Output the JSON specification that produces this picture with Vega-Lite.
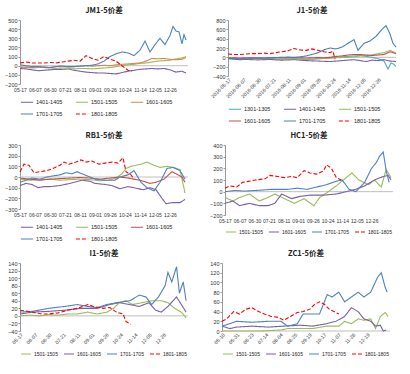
{
"$schema":"https://vega.github.io/schema/vega-lite/v6.json",
"padding":{"left":4,"top":6,"right":2,"bottom":2},
"background":"white",
"spacing":6,
"config":{"view":{"stroke":null},"font":"Liberation Sans",
 "title":{"font":"Noto Sans CJK SC","fontSize":7.5,"fontWeight":"bold","color":"#222","offset":4},
 "axis":{"labelFontSize":5.5,"labelColor":"#333","domainColor":"#999","tickColor":"#999","tickSize":2,"grid":false,"title":null,"labelPadding":1,"labelOverlap":false,"labelFlush":false},
 "axisX":{"labelFontSize":5,"labelPadding":3},
 "legend":{"orient":"bottom","direction":"horizontal","title":null,"labelFontSize":5.5,"labelColor":"#222","symbolType":"stroke","symbolSize":150,"symbolStrokeWidth":1.5,"columnPadding":10,"rowPadding":1,"offset":3,"labelLimit":60,"labelOffset":2,"padding":0},
 "line":{"strokeWidth":1.1,"interpolate":"linear"}
},
"datasets":{
"jm":[
{"s":"1401-1405","t":0,"v":-30},{"s":"1401-1405","t":6,"v":-35},{"s":"1401-1405","t":12,"v":-45},{"s":"1401-1405","t":18,"v":-55},{"s":"1401-1405","t":24,"v":-50},{"s":"1401-1405","t":30,"v":-45},{"s":"1401-1405","t":36,"v":-40},{"s":"1401-1405","t":42,"v":-40},{"s":"1401-1405","t":48,"v":-35},{"s":"1401-1405","t":54,"v":-50},{"s":"1401-1405","t":60,"v":-60},{"s":"1401-1405","t":66,"v":-70},{"s":"1401-1405","t":72,"v":-75},{"s":"1401-1405","t":78,"v":-80},{"s":"1401-1405","t":84,"v":-80},{"s":"1401-1405","t":90,"v":-85},{"s":"1401-1405","t":96,"v":-90},{"s":"1401-1405","t":102,"v":-75},{"s":"1401-1405","t":108,"v":-60},{"s":"1401-1405","t":114,"v":-50},{"s":"1401-1405","t":120,"v":-40},{"s":"1401-1405","t":126,"v":-35},{"s":"1401-1405","t":132,"v":-30},{"s":"1401-1405","t":138,"v":-35},{"s":"1401-1405","t":144,"v":-30},{"s":"1401-1405","t":150,"v":-45},{"s":"1401-1405","t":156,"v":-70},{"s":"1401-1405","t":162,"v":-60},{"s":"1401-1405","t":166,"v":-80},
{"s":"1501-1505","t":0,"v":-10},{"s":"1501-1505","t":6,"v":-20},{"s":"1501-1505","t":12,"v":-25},{"s":"1501-1505","t":18,"v":-20},{"s":"1501-1505","t":24,"v":-20},{"s":"1501-1505","t":30,"v":-25},{"s":"1501-1505","t":36,"v":-30},{"s":"1501-1505","t":42,"v":-25},{"s":"1501-1505","t":48,"v":-30},{"s":"1501-1505","t":54,"v":-35},{"s":"1501-1505","t":60,"v":-30},{"s":"1501-1505","t":66,"v":-30},{"s":"1501-1505","t":72,"v":-35},{"s":"1501-1505","t":78,"v":-30},{"s":"1501-1505","t":84,"v":-25},{"s":"1501-1505","t":90,"v":-20},{"s":"1501-1505","t":96,"v":-10},{"s":"1501-1505","t":102,"v":0},{"s":"1501-1505","t":108,"v":10},{"s":"1501-1505","t":114,"v":15},{"s":"1501-1505","t":120,"v":25},{"s":"1501-1505","t":126,"v":30},{"s":"1501-1505","t":132,"v":40},{"s":"1501-1505","t":138,"v":50},{"s":"1501-1505","t":144,"v":55},{"s":"1501-1505","t":150,"v":60},{"s":"1501-1505","t":156,"v":75},{"s":"1501-1505","t":162,"v":85},{"s":"1501-1505","t":166,"v":100},
{"s":"1601-1605","t":0,"v":-20},{"s":"1601-1605","t":6,"v":-15},{"s":"1601-1605","t":12,"v":-20},{"s":"1601-1605","t":18,"v":-10},{"s":"1601-1605","t":24,"v":-15},{"s":"1601-1605","t":30,"v":-20},{"s":"1601-1605","t":36,"v":-10},{"s":"1601-1605","t":42,"v":-5},{"s":"1601-1605","t":48,"v":-15},{"s":"1601-1605","t":54,"v":-10},{"s":"1601-1605","t":60,"v":-5},{"s":"1601-1605","t":66,"v":0},{"s":"1601-1605","t":72,"v":-5},{"s":"1601-1605","t":78,"v":0},{"s":"1601-1605","t":84,"v":5},{"s":"1601-1605","t":90,"v":0},{"s":"1601-1605","t":96,"v":10},{"s":"1601-1605","t":102,"v":15},{"s":"1601-1605","t":108,"v":20},{"s":"1601-1605","t":114,"v":25},{"s":"1601-1605","t":120,"v":30},{"s":"1601-1605","t":126,"v":50},{"s":"1601-1605","t":132,"v":80},{"s":"1601-1605","t":138,"v":75},{"s":"1601-1605","t":144,"v":80},{"s":"1601-1605","t":150,"v":70},{"s":"1601-1605","t":156,"v":65},{"s":"1601-1605","t":162,"v":70},{"s":"1601-1605","t":166,"v":90},
{"s":"1701-1705","t":0,"v":10},{"s":"1701-1705","t":6,"v":0},{"s":"1701-1705","t":12,"v":-10},{"s":"1701-1705","t":18,"v":-10},{"s":"1701-1705","t":24,"v":-15},{"s":"1701-1705","t":30,"v":-20},{"s":"1701-1705","t":36,"v":-10},{"s":"1701-1705","t":42,"v":-5},{"s":"1701-1705","t":48,"v":-10},{"s":"1701-1705","t":54,"v":-10},{"s":"1701-1705","t":60,"v":-5},{"s":"1701-1705","t":66,"v":0},{"s":"1701-1705","t":72,"v":5},{"s":"1701-1705","t":78,"v":20},{"s":"1701-1705","t":84,"v":50},{"s":"1701-1705","t":90,"v":100},{"s":"1701-1705","t":96,"v":130},{"s":"1701-1705","t":102,"v":150},{"s":"1701-1705","t":108,"v":140},{"s":"1701-1705","t":114,"v":110},{"s":"1701-1705","t":120,"v":170},{"s":"1701-1705","t":125,"v":270},{"s":"1701-1705","t":130,"v":150},{"s":"1701-1705","t":135,"v":230},{"s":"1701-1705","t":140,"v":300},{"s":"1701-1705","t":145,"v":230},{"s":"1701-1705","t":150,"v":330},{"s":"1701-1705","t":153,"v":430},{"s":"1701-1705","t":156,"v":380},{"s":"1701-1705","t":159,"v":370},{"s":"1701-1705","t":162,"v":240},{"s":"1701-1705","t":164,"v":340},{"s":"1701-1705","t":166,"v":280},
{"s":"1801-1805","t":0,"v":30},{"s":"1801-1805","t":6,"v":40},{"s":"1801-1805","t":12,"v":30},{"s":"1801-1805","t":18,"v":30},{"s":"1801-1805","t":24,"v":30},{"s":"1801-1805","t":30,"v":35},{"s":"1801-1805","t":36,"v":30},{"s":"1801-1805","t":42,"v":40},{"s":"1801-1805","t":48,"v":50},{"s":"1801-1805","t":54,"v":60},{"s":"1801-1805","t":60,"v":50},{"s":"1801-1805","t":66,"v":110},{"s":"1801-1805","t":72,"v":80},{"s":"1801-1805","t":78,"v":60},{"s":"1801-1805","t":84,"v":100},{"s":"1801-1805","t":90,"v":70},{"s":"1801-1805","t":96,"v":50},{"s":"1801-1805","t":102,"v":0},{"s":"1801-1805","t":108,"v":-50},{"s":"1801-1805","t":112,"v":-60}
],
"j":[
{"s":"1301-1305","t":0,"v":-10},{"s":"1301-1305","t":6,"v":-20},{"s":"1301-1305","t":12,"v":-40},{"s":"1301-1305","t":18,"v":-30},{"s":"1301-1305","t":24,"v":-20},{"s":"1301-1305","t":30,"v":-30},{"s":"1301-1305","t":36,"v":-40},{"s":"1301-1305","t":42,"v":-30},{"s":"1301-1305","t":48,"v":-40},{"s":"1301-1305","t":54,"v":-50},{"s":"1301-1305","t":60,"v":-40},{"s":"1301-1305","t":66,"v":-30},{"s":"1301-1305","t":72,"v":-40},{"s":"1301-1305","t":78,"v":-50},{"s":"1301-1305","t":84,"v":-40},{"s":"1301-1305","t":90,"v":-30},{"s":"1301-1305","t":96,"v":-20},{"s":"1301-1305","t":102,"v":-10},{"s":"1301-1305","t":108,"v":0},{"s":"1301-1305","t":114,"v":10},{"s":"1301-1305","t":120,"v":20},{"s":"1301-1305","t":126,"v":30},{"s":"1301-1305","t":132,"v":40},{"s":"1301-1305","t":138,"v":20},{"s":"1301-1305","t":144,"v":0},{"s":"1301-1305","t":150,"v":-30},{"s":"1301-1305","t":156,"v":-80},{"s":"1301-1305","t":160,"v":-250},{"s":"1301-1305","t":163,"v":-120},{"s":"1301-1305","t":166,"v":-150},{"s":"1301-1305","t":168,"v":-200},
{"s":"1401-1405","t":0,"v":-30},{"s":"1401-1405","t":6,"v":-40},{"s":"1401-1405","t":12,"v":-50},{"s":"1401-1405","t":18,"v":-45},{"s":"1401-1405","t":24,"v":-50},{"s":"1401-1405","t":30,"v":-55},{"s":"1401-1405","t":36,"v":-50},{"s":"1401-1405","t":42,"v":-45},{"s":"1401-1405","t":48,"v":-55},{"s":"1401-1405","t":54,"v":-60},{"s":"1401-1405","t":60,"v":-55},{"s":"1401-1405","t":66,"v":-50},{"s":"1401-1405","t":72,"v":-60},{"s":"1401-1405","t":78,"v":-70},{"s":"1401-1405","t":84,"v":-75},{"s":"1401-1405","t":90,"v":-80},{"s":"1401-1405","t":96,"v":-85},{"s":"1401-1405","t":102,"v":-90},{"s":"1401-1405","t":108,"v":-80},{"s":"1401-1405","t":114,"v":-70},{"s":"1401-1405","t":120,"v":-60},{"s":"1401-1405","t":126,"v":-50},{"s":"1401-1405","t":132,"v":-70},{"s":"1401-1405","t":138,"v":-90},{"s":"1401-1405","t":144,"v":-60},{"s":"1401-1405","t":150,"v":-70},{"s":"1401-1405","t":156,"v":-50},{"s":"1401-1405","t":162,"v":-80},{"s":"1401-1405","t":168,"v":-90},
{"s":"1501-1505","t":0,"v":-10},{"s":"1501-1505","t":6,"v":-20},{"s":"1501-1505","t":12,"v":-30},{"s":"1501-1505","t":18,"v":-25},{"s":"1501-1505","t":24,"v":-30},{"s":"1501-1505","t":30,"v":-35},{"s":"1501-1505","t":36,"v":-30},{"s":"1501-1505","t":42,"v":-25},{"s":"1501-1505","t":48,"v":-30},{"s":"1501-1505","t":54,"v":-40},{"s":"1501-1505","t":60,"v":-35},{"s":"1501-1505","t":66,"v":-30},{"s":"1501-1505","t":72,"v":-35},{"s":"1501-1505","t":78,"v":-40},{"s":"1501-1505","t":84,"v":-35},{"s":"1501-1505","t":90,"v":-30},{"s":"1501-1505","t":96,"v":-25},{"s":"1501-1505","t":102,"v":-20},{"s":"1501-1505","t":108,"v":-10},{"s":"1501-1505","t":114,"v":-5},{"s":"1501-1505","t":120,"v":0},{"s":"1501-1505","t":126,"v":10},{"s":"1501-1505","t":132,"v":30},{"s":"1501-1505","t":138,"v":40},{"s":"1501-1505","t":144,"v":50},{"s":"1501-1505","t":150,"v":80},{"s":"1501-1505","t":156,"v":100},{"s":"1501-1505","t":162,"v":150},{"s":"1501-1505","t":168,"v":90},
{"s":"1601-1605","t":0,"v":-20},{"s":"1601-1605","t":6,"v":-10},{"s":"1601-1605","t":12,"v":-20},{"s":"1601-1605","t":18,"v":-15},{"s":"1601-1605","t":24,"v":-10},{"s":"1601-1605","t":30,"v":-20},{"s":"1601-1605","t":36,"v":-15},{"s":"1601-1605","t":42,"v":-10},{"s":"1601-1605","t":48,"v":-5},{"s":"1601-1605","t":54,"v":-15},{"s":"1601-1605","t":60,"v":-10},{"s":"1601-1605","t":66,"v":-5},{"s":"1601-1605","t":72,"v":-10},{"s":"1601-1605","t":78,"v":-15},{"s":"1601-1605","t":84,"v":-10},{"s":"1601-1605","t":90,"v":-5},{"s":"1601-1605","t":96,"v":-10},{"s":"1601-1605","t":102,"v":0},{"s":"1601-1605","t":108,"v":20},{"s":"1601-1605","t":114,"v":30},{"s":"1601-1605","t":120,"v":50},{"s":"1601-1605","t":126,"v":60},{"s":"1601-1605","t":132,"v":60},{"s":"1601-1605","t":138,"v":50},{"s":"1601-1605","t":144,"v":40},{"s":"1601-1605","t":150,"v":50},{"s":"1601-1605","t":156,"v":60},{"s":"1601-1605","t":162,"v":120},{"s":"1601-1605","t":168,"v":80},
{"s":"1701-1705","t":0,"v":-20},{"s":"1701-1705","t":6,"v":-30},{"s":"1701-1705","t":12,"v":-20},{"s":"1701-1705","t":18,"v":-15},{"s":"1701-1705","t":24,"v":-20},{"s":"1701-1705","t":30,"v":-10},{"s":"1701-1705","t":36,"v":-15},{"s":"1701-1705","t":42,"v":-10},{"s":"1701-1705","t":48,"v":-5},{"s":"1701-1705","t":54,"v":0},{"s":"1701-1705","t":60,"v":5},{"s":"1701-1705","t":66,"v":0},{"s":"1701-1705","t":72,"v":10},{"s":"1701-1705","t":78,"v":30},{"s":"1701-1705","t":84,"v":60},{"s":"1701-1705","t":90,"v":100},{"s":"1701-1705","t":96,"v":160},{"s":"1701-1705","t":102,"v":200},{"s":"1701-1705","t":108,"v":180},{"s":"1701-1705","t":114,"v":220},{"s":"1701-1705","t":120,"v":300},{"s":"1701-1705","t":126,"v":380},{"s":"1701-1705","t":130,"v":150},{"s":"1701-1705","t":136,"v":300},{"s":"1701-1705","t":142,"v":350},{"s":"1701-1705","t":148,"v":450},{"s":"1701-1705","t":154,"v":600},{"s":"1701-1705","t":158,"v":680},{"s":"1701-1705","t":162,"v":500},{"s":"1701-1705","t":165,"v":300},{"s":"1701-1705","t":168,"v":220},
{"s":"1801-1805","t":0,"v":70},{"s":"1801-1805","t":6,"v":60},{"s":"1801-1805","t":12,"v":60},{"s":"1801-1805","t":18,"v":70},{"s":"1801-1805","t":24,"v":80},{"s":"1801-1805","t":30,"v":80},{"s":"1801-1805","t":36,"v":90},{"s":"1801-1805","t":42,"v":80},{"s":"1801-1805","t":48,"v":100},{"s":"1801-1805","t":54,"v":120},{"s":"1801-1805","t":60,"v":140},{"s":"1801-1805","t":66,"v":190},{"s":"1801-1805","t":72,"v":160},{"s":"1801-1805","t":78,"v":150},{"s":"1801-1805","t":84,"v":180},{"s":"1801-1805","t":90,"v":150},{"s":"1801-1805","t":96,"v":120},{"s":"1801-1805","t":102,"v":100},{"s":"1801-1805","t":105,"v":130},{"s":"1801-1805","t":107,"v":-40}
],
"rb":[
{"s":"1401-1405","t":0,"v":-80},{"s":"1401-1405","t":6,"v":-60},{"s":"1401-1405","t":12,"v":-70},{"s":"1401-1405","t":18,"v":-100},{"s":"1401-1405","t":24,"v":-90},{"s":"1401-1405","t":30,"v":-90},{"s":"1401-1405","t":40,"v":-80},{"s":"1401-1405","t":50,"v":-60},{"s":"1401-1405","t":62,"v":-30},{"s":"1401-1405","t":70,"v":-40},{"s":"1401-1405","t":75,"v":-60},{"s":"1401-1405","t":85,"v":-70},{"s":"1401-1405","t":92,"v":-80},{"s":"1401-1405","t":100,"v":-110},{"s":"1401-1405","t":108,"v":-90},{"s":"1401-1405","t":114,"v":-100},{"s":"1401-1405","t":123,"v":-120},{"s":"1401-1405","t":130,"v":-100},{"s":"1401-1405","t":136,"v":-120},{"s":"1401-1405","t":142,"v":-200},{"s":"1401-1405","t":146,"v":-250},{"s":"1401-1405","t":152,"v":-240},{"s":"1401-1405","t":160,"v":-240},{"s":"1401-1405","t":165,"v":-210},
{"s":"1501-1505","t":0,"v":-20},{"s":"1501-1505","t":10,"v":-30},{"s":"1501-1505","t":20,"v":-25},{"s":"1501-1505","t":30,"v":-20},{"s":"1501-1505","t":40,"v":-30},{"s":"1501-1505","t":50,"v":-25},{"s":"1501-1505","t":60,"v":-20},{"s":"1501-1505","t":70,"v":-25},{"s":"1501-1505","t":80,"v":-35},{"s":"1501-1505","t":88,"v":-30},{"s":"1501-1505","t":96,"v":-10},{"s":"1501-1505","t":102,"v":30},{"s":"1501-1505","t":106,"v":80},{"s":"1501-1505","t":111,"v":100},{"s":"1501-1505","t":121,"v":120},{"s":"1501-1505","t":127,"v":140},{"s":"1501-1505","t":134,"v":110},{"s":"1501-1505","t":140,"v":90},{"s":"1501-1505","t":147,"v":100},{"s":"1501-1505","t":153,"v":90},{"s":"1501-1505","t":160,"v":70},{"s":"1501-1505","t":165,"v":-150},
{"s":"1601-1605","t":0,"v":-10},{"s":"1601-1605","t":10,"v":-20},{"s":"1601-1605","t":20,"v":-30},{"s":"1601-1605","t":30,"v":-20},{"s":"1601-1605","t":40,"v":-15},{"s":"1601-1605","t":50,"v":-10},{"s":"1601-1605","t":60,"v":-5},{"s":"1601-1605","t":70,"v":-10},{"s":"1601-1605","t":80,"v":-20},{"s":"1601-1605","t":90,"v":-10},{"s":"1601-1605","t":100,"v":0},{"s":"1601-1605","t":108,"v":-10},{"s":"1601-1605","t":114,"v":-20},{"s":"1601-1605","t":120,"v":-30},{"s":"1601-1605","t":130,"v":-60},{"s":"1601-1605","t":136,"v":-50},{"s":"1601-1605","t":144,"v":-20},{"s":"1601-1605","t":152,"v":50},{"s":"1601-1605","t":158,"v":20},{"s":"1601-1605","t":162,"v":0},{"s":"1601-1605","t":165,"v":-50},
{"s":"1701-1705","t":0,"v":-50},{"s":"1701-1705","t":6,"v":-30},{"s":"1701-1705","t":12,"v":-10},{"s":"1701-1705","t":20,"v":-20},{"s":"1701-1705","t":27,"v":0},{"s":"1701-1705","t":33,"v":10},{"s":"1701-1705","t":40,"v":20},{"s":"1701-1705","t":46,"v":40},{"s":"1701-1705","t":52,"v":30},{"s":"1701-1705","t":57,"v":50},{"s":"1701-1705","t":62,"v":30},{"s":"1701-1705","t":70,"v":0},{"s":"1701-1705","t":75,"v":-20},{"s":"1701-1705","t":85,"v":-30},{"s":"1701-1705","t":95,"v":-30},{"s":"1701-1705","t":100,"v":0},{"s":"1701-1705","t":108,"v":20},{"s":"1701-1705","t":114,"v":60},{"s":"1701-1705","t":121,"v":-50},{"s":"1701-1705","t":127,"v":-100},{"s":"1701-1705","t":134,"v":-130},{"s":"1701-1705","t":140,"v":-50},{"s":"1701-1705","t":147,"v":80},{"s":"1701-1705","t":153,"v":90},{"s":"1701-1705","t":160,"v":60},{"s":"1701-1705","t":165,"v":-20},
{"s":"1801-1805","t":0,"v":50},{"s":"1801-1805","t":4,"v":120},{"s":"1801-1805","t":9,"v":110},{"s":"1801-1805","t":14,"v":40},{"s":"1801-1805","t":20,"v":50},{"s":"1801-1805","t":27,"v":60},{"s":"1801-1805","t":33,"v":80},{"s":"1801-1805","t":40,"v":110},{"s":"1801-1805","t":44,"v":140},{"s":"1801-1805","t":49,"v":120},{"s":"1801-1805","t":56,"v":140},{"s":"1801-1805","t":61,"v":160},{"s":"1801-1805","t":66,"v":140},{"s":"1801-1805","t":72,"v":150},{"s":"1801-1805","t":79,"v":120},{"s":"1801-1805","t":85,"v":130},{"s":"1801-1805","t":92,"v":140},{"s":"1801-1805","t":98,"v":130},{"s":"1801-1805","t":103,"v":180},{"s":"1801-1805","t":106,"v":50},{"s":"1801-1805","t":111,"v":20},{"s":"1801-1805","t":114,"v":-20}
],
"hc":[
{"s":"1501-1505","t":0,"v":-50},{"s":"1501-1505","t":8,"v":-80},{"s":"1501-1505","t":15,"v":-50},{"s":"1501-1505","t":25,"v":-20},{"s":"1501-1505","t":35,"v":-80},{"s":"1501-1505","t":44,"v":-50},{"s":"1501-1505","t":51,"v":-20},{"s":"1501-1505","t":61,"v":-60},{"s":"1501-1505","t":71,"v":-100},{"s":"1501-1505","t":81,"v":-60},{"s":"1501-1505","t":91,"v":-120},{"s":"1501-1505","t":97,"v":-50},{"s":"1501-1505","t":104,"v":-10},{"s":"1501-1505","t":114,"v":50},{"s":"1501-1505","t":124,"v":120},{"s":"1501-1505","t":130,"v":160},{"s":"1501-1505","t":137,"v":100},{"s":"1501-1505","t":147,"v":60},{"s":"1501-1505","t":153,"v":100},{"s":"1501-1505","t":160,"v":40},{"s":"1501-1505","t":165,"v":190},{"s":"1501-1505","t":170,"v":120},
{"s":"1601-1605","t":0,"v":-100},{"s":"1601-1605","t":8,"v":-80},{"s":"1601-1605","t":15,"v":-120},{"s":"1601-1605","t":25,"v":-100},{"s":"1601-1605","t":35,"v":-120},{"s":"1601-1605","t":44,"v":-120},{"s":"1601-1605","t":51,"v":-100},{"s":"1601-1605","t":58,"v":-20},{"s":"1601-1605","t":68,"v":-60},{"s":"1601-1605","t":77,"v":-40},{"s":"1601-1605","t":87,"v":-30},{"s":"1601-1605","t":101,"v":-30},{"s":"1601-1605","t":114,"v":-20},{"s":"1601-1605","t":124,"v":0},{"s":"1601-1605","t":134,"v":20},{"s":"1601-1605","t":143,"v":50},{"s":"1601-1605","t":153,"v":100},{"s":"1601-1605","t":162,"v":130},{"s":"1601-1605","t":167,"v":140},{"s":"1601-1605","t":170,"v":100},
{"s":"1701-1705","t":0,"v":0},{"s":"1701-1705","t":10,"v":10},{"s":"1701-1705","t":20,"v":5},{"s":"1701-1705","t":31,"v":10},{"s":"1701-1705","t":48,"v":20},{"s":"1701-1705","t":64,"v":20},{"s":"1701-1705","t":74,"v":30},{"s":"1701-1705","t":84,"v":20},{"s":"1701-1705","t":94,"v":40},{"s":"1701-1705","t":104,"v":60},{"s":"1701-1705","t":114,"v":90},{"s":"1701-1705","t":120,"v":100},{"s":"1701-1705","t":127,"v":20},{"s":"1701-1705","t":134,"v":0},{"s":"1701-1705","t":143,"v":80},{"s":"1701-1705","t":150,"v":200},{"s":"1701-1705","t":155,"v":250},{"s":"1701-1705","t":158,"v":300},{"s":"1701-1705","t":162,"v":340},{"s":"1701-1705","t":165,"v":180},{"s":"1701-1705","t":168,"v":80},
{"s":"1801-1805","t":0,"v":30},{"s":"1801-1805","t":5,"v":50},{"s":"1801-1805","t":12,"v":40},{"s":"1801-1805","t":18,"v":80},{"s":"1801-1805","t":25,"v":90},{"s":"1801-1805","t":31,"v":100},{"s":"1801-1805","t":41,"v":110},{"s":"1801-1805","t":46,"v":140},{"s":"1801-1805","t":54,"v":130},{"s":"1801-1805","t":61,"v":120},{"s":"1801-1805","t":68,"v":130},{"s":"1801-1805","t":74,"v":120},{"s":"1801-1805","t":81,"v":180},{"s":"1801-1805","t":87,"v":160},{"s":"1801-1805","t":94,"v":150},{"s":"1801-1805","t":101,"v":180},{"s":"1801-1805","t":104,"v":230},{"s":"1801-1805","t":109,"v":200},{"s":"1801-1805","t":114,"v":120},{"s":"1801-1805","t":119,"v":100}
],
"i":[
{"s":"1501-1505","t":0,"v":0},{"s":"1501-1505","t":10,"v":2},{"s":"1501-1505","t":20,"v":0},{"s":"1501-1505","t":30,"v":3},{"s":"1501-1505","t":40,"v":2},{"s":"1501-1505","t":50,"v":5},{"s":"1501-1505","t":60,"v":5},{"s":"1501-1505","t":71,"v":10},{"s":"1501-1505","t":81,"v":5},{"s":"1501-1505","t":91,"v":10},{"s":"1501-1505","t":98,"v":20},{"s":"1501-1505","t":104,"v":35},{"s":"1501-1505","t":111,"v":40},{"s":"1501-1505","t":118,"v":30},{"s":"1501-1505","t":128,"v":35},{"s":"1501-1505","t":138,"v":40},{"s":"1501-1505","t":148,"v":40},{"s":"1501-1505","t":155,"v":35},{"s":"1501-1505","t":162,"v":20},{"s":"1501-1505","t":169,"v":10},{"s":"1501-1505","t":174,"v":-5},
{"s":"1601-1605","t":0,"v":5},{"s":"1601-1605","t":13,"v":10},{"s":"1601-1605","t":30,"v":12},{"s":"1601-1605","t":47,"v":15},{"s":"1601-1605","t":64,"v":20},{"s":"1601-1605","t":81,"v":20},{"s":"1601-1605","t":94,"v":30},{"s":"1601-1605","t":104,"v":35},{"s":"1601-1605","t":115,"v":30},{"s":"1601-1605","t":125,"v":25},{"s":"1601-1605","t":135,"v":35},{"s":"1601-1605","t":142,"v":15},{"s":"1601-1605","t":148,"v":10},{"s":"1601-1605","t":155,"v":25},{"s":"1601-1605","t":164,"v":50},{"s":"1601-1605","t":169,"v":30},{"s":"1601-1605","t":174,"v":10},
{"s":"1701-1705","t":0,"v":10},{"s":"1701-1705","t":13,"v":12},{"s":"1701-1705","t":30,"v":20},{"s":"1701-1705","t":47,"v":25},{"s":"1701-1705","t":60,"v":30},{"s":"1701-1705","t":71,"v":25},{"s":"1701-1705","t":81,"v":22},{"s":"1701-1705","t":91,"v":30},{"s":"1701-1705","t":101,"v":35},{"s":"1701-1705","t":115,"v":40},{"s":"1701-1705","t":125,"v":55},{"s":"1701-1705","t":132,"v":50},{"s":"1701-1705","t":138,"v":30},{"s":"1701-1705","t":145,"v":50},{"s":"1701-1705","t":152,"v":80},{"s":"1701-1705","t":155,"v":115},{"s":"1701-1705","t":159,"v":90},{"s":"1701-1705","t":164,"v":130},{"s":"1701-1705","t":167,"v":60},{"s":"1701-1705","t":171,"v":90},{"s":"1701-1705","t":174,"v":40},
{"s":"1801-1805","t":0,"v":15},{"s":"1801-1805","t":13,"v":10},{"s":"1801-1805","t":23,"v":5},{"s":"1801-1805","t":30,"v":5},{"s":"1801-1805","t":40,"v":8},{"s":"1801-1805","t":50,"v":15},{"s":"1801-1805","t":60,"v":20},{"s":"1801-1805","t":71,"v":30},{"s":"1801-1805","t":77,"v":25},{"s":"1801-1805","t":87,"v":20},{"s":"1801-1805","t":94,"v":22},{"s":"1801-1805","t":101,"v":10},{"s":"1801-1805","t":108,"v":5},{"s":"1801-1805","t":111,"v":-15},{"s":"1801-1805","t":116,"v":-22}
],
"zc":[
{"s":"1501-1505","t":0,"v":0},{"s":"1501-1505","t":20,"v":0},{"s":"1501-1505","t":40,"v":0},{"s":"1501-1505","t":61,"v":2},{"s":"1501-1505","t":68,"v":5},{"s":"1501-1505","t":81,"v":5},{"s":"1501-1505","t":94,"v":5},{"s":"1501-1505","t":108,"v":10},{"s":"1501-1505","t":121,"v":10},{"s":"1501-1505","t":127,"v":20},{"s":"1501-1505","t":134,"v":15},{"s":"1501-1505","t":141,"v":25},{"s":"1501-1505","t":147,"v":22},{"s":"1501-1505","t":154,"v":25},{"s":"1501-1505","t":159,"v":5},{"s":"1501-1505","t":164,"v":30},{"s":"1501-1505","t":169,"v":38},{"s":"1501-1505","t":172,"v":30},
{"s":"1601-1605","t":0,"v":10},{"s":"1601-1605","t":8,"v":5},{"s":"1601-1605","t":15,"v":8},{"s":"1601-1605","t":31,"v":10},{"s":"1601-1605","t":48,"v":8},{"s":"1601-1605","t":64,"v":10},{"s":"1601-1605","t":81,"v":12},{"s":"1601-1605","t":94,"v":10},{"s":"1601-1605","t":108,"v":15},{"s":"1601-1605","t":118,"v":20},{"s":"1601-1605","t":127,"v":30},{"s":"1601-1605","t":134,"v":48},{"s":"1601-1605","t":141,"v":40},{"s":"1601-1605","t":147,"v":25},{"s":"1601-1605","t":154,"v":20},{"s":"1601-1605","t":159,"v":10},{"s":"1601-1605","t":164,"v":12},{"s":"1601-1605","t":167,"v":0},{"s":"1601-1605","t":170,"v":2},
{"s":"1701-1705","t":0,"v":10},{"s":"1701-1705","t":8,"v":15},{"s":"1701-1705","t":15,"v":20},{"s":"1701-1705","t":31,"v":18},{"s":"1701-1705","t":48,"v":20},{"s":"1701-1705","t":61,"v":20},{"s":"1701-1705","t":68,"v":10},{"s":"1701-1705","t":78,"v":15},{"s":"1701-1705","t":84,"v":35},{"s":"1701-1705","t":94,"v":35},{"s":"1701-1705","t":101,"v":35},{"s":"1701-1705","t":104,"v":50},{"s":"1701-1705","t":109,"v":75},{"s":"1701-1705","t":114,"v":70},{"s":"1701-1705","t":121,"v":80},{"s":"1701-1705","t":127,"v":60},{"s":"1701-1705","t":134,"v":70},{"s":"1701-1705","t":141,"v":80},{"s":"1701-1705","t":147,"v":70},{"s":"1701-1705","t":154,"v":80},{"s":"1701-1705","t":161,"v":110},{"s":"1701-1705","t":165,"v":120},{"s":"1701-1705","t":169,"v":90},{"s":"1701-1705","t":171,"v":80},
{"s":"1801-1805","t":0,"v":20},{"s":"1801-1805","t":5,"v":25},{"s":"1801-1805","t":12,"v":40},{"s":"1801-1805","t":18,"v":35},{"s":"1801-1805","t":25,"v":45},{"s":"1801-1805","t":31,"v":48},{"s":"1801-1805","t":38,"v":40},{"s":"1801-1805","t":44,"v":35},{"s":"1801-1805","t":51,"v":30},{"s":"1801-1805","t":58,"v":28},{"s":"1801-1805","t":61,"v":25},{"s":"1801-1805","t":64,"v":22},{"s":"1801-1805","t":71,"v":30},{"s":"1801-1805","t":78,"v":38},{"s":"1801-1805","t":84,"v":40},{"s":"1801-1805","t":91,"v":45},{"s":"1801-1805","t":96,"v":55},{"s":"1801-1805","t":101,"v":60},{"s":"1801-1805","t":106,"v":55},{"s":"1801-1805","t":111,"v":45},{"s":"1801-1805","t":116,"v":40},{"s":"1801-1805","t":121,"v":35}
]
},
"resolve":{"scale":{"color":"independent","strokeDash":"independent","x":"independent","y":"independent"},"legend":{"color":"independent","strokeDash":"independent"}},
"vconcat":[
{"spacing":20,"resolve":{"scale":{"color":"independent","strokeDash":"independent","x":"independent","y":"independent"},"legend":{"color":"independent","strokeDash":"independent"}},
 "hconcat":[
 {"width":168,"height":64,"title":"JM1-5价差","data":{"name":"jm"},
  "layer":[
   {"data":{"values":[{"z":0}]},"mark":{"type":"rule","color":"#bfbfbf","strokeWidth":1},"encoding":{"y":{"field":"z","type":"quantitative","axis":{"values":[-200,-100,0,100,200,300,400,500]}}}},
   {"mark":"line","encoding":{
    "x":{"field":"t","type":"quantitative","scale":{"domain":[0,168],"nice":false},"axis":{"values":[0,15,30,45,60,75,90,105,120,135,150],"labelExpr":"['05-17','06-07','06-30','07-21','08-11','09-01','09-26','10-24','11-14','12-05','12-26'][datum.value/15]","domain":false,"ticks":false,"labelAngle":0}},
    "y":{"field":"v","type":"quantitative","scale":{"domain":[-200,500],"nice":false},"axis":{"values":[-200,-100,0,100,200,300,400,500]}},
    "color":{"field":"s","type":"nominal","scale":{"domain":["1401-1405","1501-1505","1601-1605","1701-1705","1801-1805"],"range":["#7B5EA7","#9BBB59","#D6864F","#4F81BD","#FF0000"]},"legend":{"columns":3}},
    "strokeDash":{"field":"s","type":"nominal","scale":{"domain":["1401-1405","1501-1505","1601-1605","1701-1705","1801-1805"],"range":[[1,0],[1,0],[1,0],[1,0],[4,2]]},"legend":{"columns":3}},
    "strokeWidth":{"condition":{"test":"datum.s=='1801-1805'","value":1.8},"value":1.1}
   }}
  ]},
 {"width":168,"height":56,"title":"J1-5价差","data":{"name":"j"},
  "layer":[
   {"data":{"values":[{"z":0}]},"mark":{"type":"rule","color":"#bfbfbf","strokeWidth":1},"encoding":{"y":{"field":"z","type":"quantitative","axis":{"values":[-400,-200,0,200,400,600,800]}}}},
   {"mark":"line","encoding":{
    "x":{"field":"t","type":"quantitative","scale":{"domain":[0,168],"nice":false},"axis":{"values":[0,15,30,45,60,75,90,105,120,135,150],"labelExpr":"['2016-05-17','2016-06-07','2016-06-30','2016-07-21','2016-08-11','2016-09-01','2016-09-26','2016-10-24','2016-11-14','2016-12-05','2016-12-26'][datum.value/15]","domain":false,"ticks":false,"labelAngle":-45,"labelPadding":1}},
    "y":{"field":"v","type":"quantitative","scale":{"domain":[-400,800],"nice":false},"axis":{"values":[-400,-200,0,200,400,600,800]}},
    "color":{"field":"s","type":"nominal","scale":{"domain":["1301-1305","1401-1405","1501-1505","1601-1605","1701-1705","1801-1805"],"range":["#4BACC6","#7B5EA7","#9BBB59","#C0504D","#4A7EBB","#FF0000"]},"legend":{"columns":3}},
    "strokeDash":{"field":"s","type":"nominal","scale":{"domain":["1301-1305","1401-1405","1501-1505","1601-1605","1701-1705","1801-1805"],"range":[[1,0],[1,0],[1,0],[1,0],[1,0],[4,2]]},"legend":{"columns":3}},
    "strokeWidth":{"condition":{"test":"datum.s=='1801-1805'","value":1.8},"value":1.1}
   }}
  ]}
 ]},
{"spacing":20,"resolve":{"scale":{"color":"independent","strokeDash":"independent","x":"independent","y":"independent"},"legend":{"color":"independent","strokeDash":"independent"}},
 "hconcat":[
 {"width":168,"height":64,"title":"RB1-5价差","data":{"name":"rb"},
  "layer":[
   {"data":{"values":[{"z":0}]},"mark":{"type":"rule","color":"#bfbfbf","strokeWidth":1},"encoding":{"y":{"field":"z","type":"quantitative","axis":{"values":[-300,-200,-100,0,100,200,300]}}}},
   {"mark":"line","encoding":{
    "x":{"field":"t","type":"quantitative","scale":{"domain":[0,168],"nice":false},"axis":{"values":[0,15,30,45,60,75,90,105,120,135,150],"labelExpr":"['05-17','06-07','06-30','07-21','08-11','09-01','09-26','10-24','11-14','12-05','12-26'][datum.value/15]","domain":false,"ticks":false,"labelAngle":0}},
    "y":{"field":"v","type":"quantitative","scale":{"domain":[-300,300],"nice":false},"axis":{"values":[-300,-200,-100,0,100,200,300]}},
    "color":{"field":"s","type":"nominal","scale":{"domain":["1401-1405","1501-1505","1601-1605","1701-1705","1801-1805"],"range":["#7B5EA7","#9BBB59","#C0504D","#4F81BD","#FF0000"]},"legend":{"columns":3}},
    "strokeDash":{"field":"s","type":"nominal","scale":{"domain":["1401-1405","1501-1505","1601-1605","1701-1705","1801-1805"],"range":[[1,0],[1,0],[1,0],[1,0],[4,2]]},"legend":{"columns":3}},
    "strokeWidth":{"condition":{"test":"datum.s=='1801-1805'","value":1.8},"value":1.1}
   }}
  ]},
 {"width":168,"height":70,"title":"HC1-5价差","data":{"name":"hc"},
  "layer":[
   {"data":{"values":[{"z":0}]},"mark":{"type":"rule","color":"#bfbfbf","strokeWidth":1},"encoding":{"y":{"field":"z","type":"quantitative","axis":{"values":[-200,-100,0,100,200,300,400]}}}},
   {"mark":"line","encoding":{
    "x":{"field":"t","type":"quantitative","scale":{"domain":[0,172],"nice":false},"axis":{"values":[0,15,30,45,60,75,90,105,120,135,150],"labelExpr":"['05-17','06-07','06-30','07-21','08-11','09-01','09-26','10-24','11-14','12-05','12-26'][datum.value/15]","domain":false,"ticks":false,"labelAngle":0}},
    "y":{"field":"v","type":"quantitative","scale":{"domain":[-200,400],"nice":false},"axis":{"values":[-200,-100,0,100,200,300,400]}},
    "color":{"field":"s","type":"nominal","scale":{"domain":["1501-1505","1601-1605","1701-1705","1801-1805"],"range":["#9BBB59","#7B5EA7","#4F81BD","#FF0000"]},"legend":{"columns":4,"columnPadding":3,"labelFontSize":5,"symbolSize":100}},
    "strokeDash":{"field":"s","type":"nominal","scale":{"domain":["1501-1505","1601-1605","1701-1705","1801-1805"],"range":[[1,0],[1,0],[1,0],[4,2]]},"legend":{"columns":4,"columnPadding":3,"labelFontSize":5,"symbolSize":100}},
    "strokeWidth":{"condition":{"test":"datum.s=='1801-1805'","value":1.8},"value":1.1}
   }}
  ]}
 ]},
{"spacing":20,"resolve":{"scale":{"color":"independent","strokeDash":"independent","x":"independent","y":"independent"},"legend":{"color":"independent","strokeDash":"independent"}},
 "hconcat":[
 {"width":168,"height":68,"title":"I1-5价差","data":{"name":"i"},
  "layer":[
   {"data":{"values":[{"z":0}]},"mark":{"type":"rule","color":"#bfbfbf","strokeWidth":1},"encoding":{"y":{"field":"z","type":"quantitative","axis":{"values":[-40,-20,0,20,40,60,80,100,120,140]}}}},
   {"mark":"line","encoding":{
    "x":{"field":"t","type":"quantitative","scale":{"domain":[0,176],"nice":false},"axis":{"values":[0,15,30,45,60,75,90,105,120,135,150],"labelExpr":"['05-17','06-07','06-30','07-21','08-11','09-01','09-26','10-24','11-14','12-05','12-26'][datum.value/15]","domain":false,"ticks":false,"labelAngle":-45,"labelPadding":1}},
    "y":{"field":"v","type":"quantitative","scale":{"domain":[-40,140],"nice":false},"axis":{"values":[-40,-20,0,20,40,60,80,100,120,140]}},
    "color":{"field":"s","type":"nominal","scale":{"domain":["1501-1505","1601-1605","1701-1705","1801-1805"],"range":["#9BBB59","#7B5EA7","#4F81BD","#FF0000"]},"legend":{"columns":4,"columnPadding":3,"labelFontSize":5,"symbolSize":100}},
    "strokeDash":{"field":"s","type":"nominal","scale":{"domain":["1501-1505","1601-1605","1701-1705","1801-1805"],"range":[[1,0],[1,0],[1,0],[4,2]]},"legend":{"columns":4,"columnPadding":3,"labelFontSize":5,"symbolSize":100}},
    "strokeWidth":{"condition":{"test":"datum.s=='1801-1805'","value":1.8},"value":1.1}
   }}
  ]},
 {"width":168,"height":68,"title":"ZC1-5价差","data":{"name":"zc"},
  "layer":[
   {"data":{"values":[{"z":0}]},"mark":{"type":"rule","color":"#bfbfbf","strokeWidth":1},"encoding":{"y":{"field":"z","type":"quantitative","axis":{"values":[0,20,40,60,80,100,120,140]}}}},
   {"mark":"line","encoding":{
    "x":{"field":"t","type":"quantitative","scale":{"domain":[0,174],"nice":false},"axis":{"values":[0,15,30,45,60,75,90,105,120,135,150],"labelExpr":"['05-10','05-31','06-23','07-14','08-04','08-25','09-19','10-17','11-07','11-28','12-19'][datum.value/15]","domain":false,"ticks":false,"labelAngle":-45,"labelPadding":1}},
    "y":{"field":"v","type":"quantitative","scale":{"domain":[0,140],"nice":false},"axis":{"values":[0,20,40,60,80,100,120,140]}},
    "color":{"field":"s","type":"nominal","scale":{"domain":["1501-1505","1601-1605","1701-1705","1801-1805"],"range":["#9BBB59","#7B5EA7","#4F81BD","#FF0000"]},"legend":{"columns":4,"columnPadding":3,"labelFontSize":5,"symbolSize":100}},
    "strokeDash":{"field":"s","type":"nominal","scale":{"domain":["1501-1505","1601-1605","1701-1705","1801-1805"],"range":[[1,0],[1,0],[1,0],[4,2]]},"legend":{"columns":4,"columnPadding":3,"labelFontSize":5,"symbolSize":100}},
    "strokeWidth":{"condition":{"test":"datum.s=='1801-1805'","value":1.8},"value":1.1}
   }}
  ]}
 ]}
]
}
